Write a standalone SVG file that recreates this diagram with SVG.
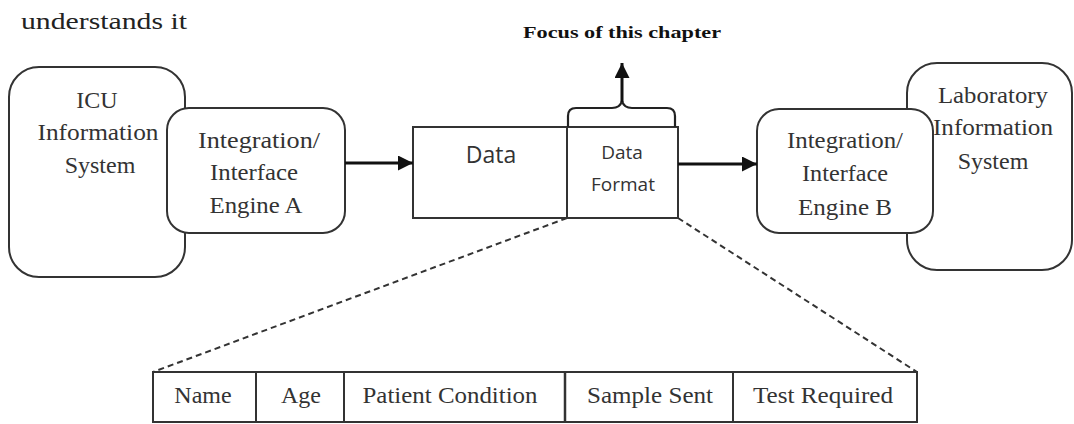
<svg xmlns="http://www.w3.org/2000/svg" width="1074" height="424" viewBox="0 0 1074 424">
<style>
.serif{font-family:"Liberation Serif","Times New Roman",serif;fill:#333;}
.box{fill:#fff;stroke:#333;stroke-width:2;}
.sans{font-family:"Open Sans","Noto Sans",sans-serif;fill:#333;}
.conn{stroke:#111;stroke-width:3;fill:none;}
.dash{stroke:#333;stroke-width:2;stroke-dasharray:6 4;fill:none;}
</style>
<defs>
<marker id="arr" viewBox="0 0 10 10" refX="10" refY="5" markerWidth="5" markerHeight="5" markerUnits="strokeWidth" orient="auto">
<path d="M0,0 L10,5 L0,10 Z" fill="#111"/>
</marker>
</defs>
<rect width="1074" height="424" fill="#fff"/>
<text id="caption" class="serif" x="21" y="29" font-size="24" textLength="166" lengthAdjust="spacingAndGlyphs" style="fill:#222">understands it</text>
<text id="focus" class="serif" x="622" y="38" font-size="16" font-weight="bold" text-anchor="middle" textLength="198" lengthAdjust="spacingAndGlyphs" style="fill:#111">Focus of this chapter</text>

<g id="icu">
<rect class="box" x="9" y="67" width="176" height="210" rx="30"/>
<text class="serif" font-size="24" text-anchor="middle"><tspan x="97" y="108">ICU</tspan><tspan x="98" y="140" textLength="121" lengthAdjust="spacingAndGlyphs">Information</tspan><tspan x="100" y="173">System</tspan></text>
</g>
<g id="engineA">
<rect class="box" x="167" y="108" width="178" height="125" rx="22"/>
<text class="serif" font-size="24" text-anchor="middle"><tspan x="259" y="148" textLength="122" lengthAdjust="spacingAndGlyphs">Integration/</tspan><tspan x="254" y="180" textLength="88" lengthAdjust="spacingAndGlyphs">Interface</tspan><tspan x="256" y="213" textLength="93" lengthAdjust="spacingAndGlyphs">Engine A</tspan></text>
</g>
<g id="lab">
<rect class="box" x="907" y="63" width="165" height="207" rx="30"/>
<text class="serif" font-size="24" text-anchor="middle"><tspan x="993" y="103" textLength="110" lengthAdjust="spacingAndGlyphs">Laboratory</tspan><tspan x="993" y="135" textLength="120" lengthAdjust="spacingAndGlyphs">Information</tspan><tspan x="993" y="169">System</tspan></text>
</g>
<g id="engineB">
<rect class="box" x="757" y="109" width="176" height="124" rx="22"/>
<text class="serif" font-size="24" text-anchor="middle"><tspan x="845" y="148" textLength="116" lengthAdjust="spacingAndGlyphs">Integration/</tspan><tspan x="845" y="181" textLength="86" lengthAdjust="spacingAndGlyphs">Interface</tspan><tspan x="845" y="215" textLength="94" lengthAdjust="spacingAndGlyphs">Engine B</tspan></text>
</g>
<g id="data">
<rect class="box" x="413" y="127" width="154" height="91"/>
<text class="sans" x="491" y="163" font-size="23" text-anchor="middle">Data</text>
</g>
<g id="dataFormat">
<rect class="box" x="567" y="127" width="111" height="91"/>
<text class="sans" font-size="19" text-anchor="middle"><tspan x="622" y="159">Data</tspan><tspan x="623" y="191">Format</tspan></text>
</g>
<g id="table">
<rect class="box" x="153" y="372" width="764" height="50"/>
<line x1="256" y1="372" x2="256" y2="422" stroke="#333" stroke-width="2"/>
<line x1="344" y1="372" x2="344" y2="422" stroke="#333" stroke-width="2"/>
<line x1="565" y1="372" x2="565" y2="422" stroke="#333" stroke-width="2.5"/>
<line x1="733" y1="372" x2="733" y2="422" stroke="#333" stroke-width="2"/>
<text class="serif" font-size="24" y="403" text-anchor="middle"><tspan x="203">Name</tspan><tspan x="301">Age</tspan><tspan x="450" textLength="175" lengthAdjust="spacingAndGlyphs">Patient Condition</tspan><tspan x="650" textLength="126" lengthAdjust="spacingAndGlyphs">Sample Sent</tspan><tspan x="823" textLength="140" lengthAdjust="spacingAndGlyphs">Test Required</tspan></text>
</g>
<g id="connectors">
<line class="conn" x1="345" y1="163" x2="413" y2="163" marker-end="url(#arr)"/>
<line class="conn" x1="678" y1="164" x2="757" y2="164" marker-end="url(#arr)"/>
<path class="dash" d="M567,218 L153,372"/>
<path class="dash" d="M678,218 L917,372"/>
<path d="M568,127 L568,116 Q568,108 576,108 L612,108 Q620,108 622,101 Q624,108 632,108 L667,108 Q675,108 675,116 L675,127" fill="none" stroke="#222" stroke-width="2.2"/>
<line class="conn" x1="622" y1="102" x2="622" y2="63" marker-end="url(#arr)"/>
</g>
</svg>
